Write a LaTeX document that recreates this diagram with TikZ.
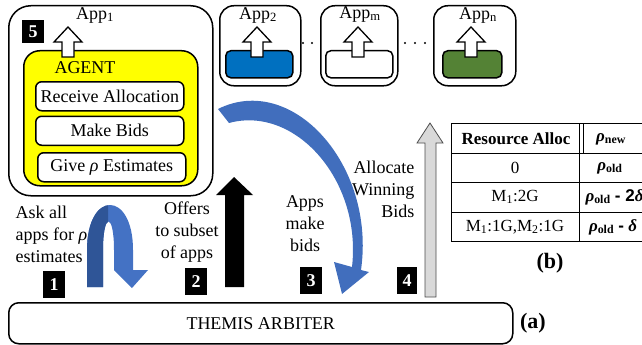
\documentclass[tikz,border=0pt]{standalone}
\usepackage{fontspec}
\setmainfont{Liberation Serif}
\newfontfamily\arialfont{Liberation Sans}
\usetikzlibrary{positioning}
\definecolor{agentyellow}{HTML}{FFFF00}
\definecolor{appblue}{HTML}{0070C0}
\definecolor{appgreen}{HTML}{548235}
\definecolor{arrowblue}{HTML}{4472C4}
\definecolor{arrowdark}{HTML}{2F5597}
\definecolor{allocgray}{HTML}{D9D9D9}
\newcommand\uturnpath{(87,287) -- (87,250) .. controls (87,190) and (133,190) .. (133,250)
    -- (133,270) -- (148,270) -- (132,288) -- (114,270) -- (114,250)
    .. controls (114,212) and (103,212) .. (103,250) -- (103,287) -- cycle}
\begin{document}
\begin{tikzpicture}[x=1pt, y=-1pt,
    node distance=4pt and 4pt,
box/.style = {draw, line width=1.5pt, inner sep=0pt, anchor=north west},
appbox/.style = {box, rounded corners=14pt, minimum height=80pt},
inbox/.style = {box, rounded corners=5pt, minimum height=27pt},
item/.style = {box, fill=white, rounded corners=6pt, minimum width=148pt, minimum height=29pt},
numbox/.style = {anchor=north west, fill=black, text=white, inner sep=0pt,
                 minimum width=22pt, minimum height=27pt,
                 font=\fontsize{18}{22}\selectfont\bfseries},
tab/.style = {font=\fontsize{17}{20}\selectfont},
     font = \fontsize{18}{22}\selectfont
                        ]
\useasboundingbox (0,0) rectangle (642,345);
% app 1 with its agent
\node (app1)  [box, rounded corners=22pt, minimum width=204pt, minimum height=190pt] at (8,5) {};
\node (agent) [box, fill=agentyellow, rounded corners=16pt, minimum width=174pt, minimum height=135pt] at (23,50) {};
\node (recv)  [item] at (35,81) {Receive Allocation};
\node (bids)  [item, below=4pt of recv] {Make Bids};
\node (give)  [item, below=6pt of bids, xshift=2pt] {Give \textit{ρ} Estimates};
\node (agenttxt) at (85,68) {AGENT};
\node (app1txt)  at (95,15) {App\textsubscript{1}};
\node (n5) [numbox, minimum height=23pt] at (22,20) {5};
% the other apps
\node (app2)   [appbox, minimum width=81pt] at (219,5) {};
\node (app2in) [inbox, fill=appblue, minimum width=67pt] at (225,50) {};
\node (appm)   [appbox, minimum width=77pt] at (320,5) {};
\node (appmin) [inbox, fill=white, minimum width=67pt] at (325,50) {};
\node (appn)   [appbox, minimum width=82pt] at (433,5) {};
\node (appnin) [inbox, fill=appgreen, minimum width=59pt] at (442,50) {};
\node (app2txt) at (258,15) {App\textsubscript{2}};
\node (appmtxt) at (360,14) {App\textsubscript{m}};
\node (appntxt) at (478,15) {App\textsubscript{n}};
\foreach \d in {303,312,405,415,425}
    \fill (\d,43) circle (1.2pt);
\foreach \c in {68,257,358,471}
    \filldraw[fill=white, line width=1.3pt] (\c,27) -- ({\c+14},42) -- ({\c+6},42) -- ({\c+6},57)
        -- ({\c-6},57) -- ({\c-6},42) -- ({\c-14},42) -- cycle;
% arbiter
\node (arbiter) [box, rounded corners=10pt, minimum width=504pt, minimum height=41pt] at (8,302) {THEMIS ARBITER};
\node (lbla) [right=3pt of arbiter, font=\fontsize{22}{24}\selectfont\bfseries] {(a)};
% step 1
\fill[arrowblue] \uturnpath;
\begin{scope}
\clip (80,195) rectangle (108,292);
\fill[arrowdark] \uturnpath;
\end{scope}
\node (ask) [anchor=west, align=left] at (12,234) {Ask all\\apps for \textit{ρ}\\estimates};
\node (n1) [numbox] at (43,271) {1};
% step 2
\fill (234,177) -- (253,195) -- (244,195) -- (244,287) -- (225,287) -- (225,195) -- (216,195) -- cycle;
\node (offers) [align=center] at (187,232) {Offers\\to subset\\of apps};
\node (n2) [numbox] at (185,268) {2};
% step 3
\fill[arrowblue!85!arrowdark] (218,109) .. controls (292,72) and (376,165) .. (361,270)
    -- (369,272) -- (342,294) -- (334,262) -- (352,267)
    .. controls (362,180) and (295,105) .. (229,123) -- cycle;
\node (makebids) [align=center] at (305,224) {Apps\\make\\bids};
\node (n3) [numbox] at (300,267) {3};
% step 4
\filldraw[fill=allocgray, draw=gray!60!black, line width=0.8pt] (430,123) -- (443,143) -- (436,143)
    -- (436,297) -- (425,297) -- (425,143) -- (417,143) -- cycle;
\node (allocate) [anchor=east, align=right] at (418,189) {Allocate\\Winning\\Bids};
\node (n4) [numbox, minimum width=20pt] at (397,267) {4};
% table (b)
\draw[line width=0.9pt] (451,123) rectangle (652,241);
\foreach \r in {153,182,212}
    \draw[line width=0.9pt] (451,\r) -- (652,\r);
\draw[line width=0.9pt] (579,123) -- (579,241);
\draw[line width=0.9pt] (583,123) -- (583,153);
\node (hdr1) [tab] at (516,139) {\textbf{Resource Alloc}};
\node (hdr2) [tab] at (611,139) {\textbf{\textit{ρ}}\textsubscript{\textbf{new}}};
\node (r1c1) [tab] at (515,168) {0};
\node (r1c2) [tab] at (610,168) {\textbf{\textit{ρ}}\textsubscript{\textbf{old}}};
\node (r2c1) [tab] at (515,197) {M\textsubscript{1}:2G};
\node (r2c2) [tab, anchor=west] at (582,197) {\textbf{\textit{ρ}}\textsubscript{\textbf{old}} {\arialfont\bfseries - 2}\textbf{\textit{δ}}};
\node (r3c1) [tab] at (515,227) {M\textsubscript{1}:1G,M\textsubscript{2}:1G};
\node (r3c2) [tab] at (613,227) {\textbf{\textit{ρ}}\textsubscript{\textbf{old}} {\arialfont\bfseries -} \textbf{\textit{δ}}};
\node (lblb) [font=\fontsize{22}{24}\selectfont\bfseries] at (550,263) {(b)};
\end{tikzpicture}
\end{document}
